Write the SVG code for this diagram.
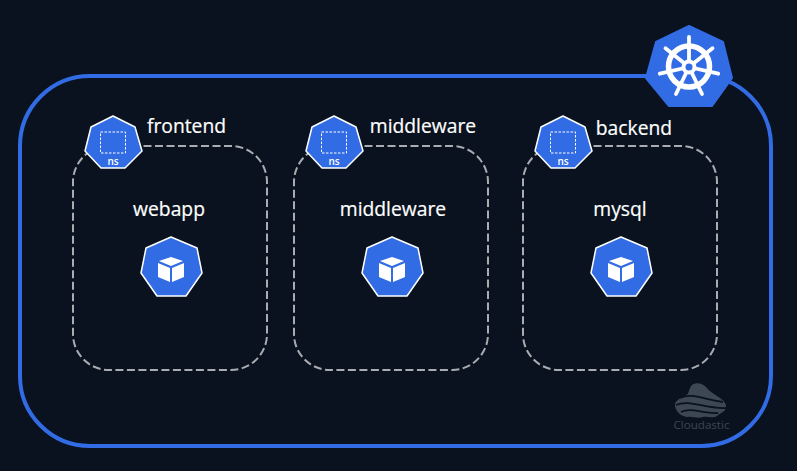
<svg xmlns="http://www.w3.org/2000/svg" width="797" height="471" viewBox="0 0 797 471">
<style>
.lbl{font-family:"Open Sans","Noto Sans",sans-serif;font-size:19.300px;fill:#fff;text-anchor:middle;stroke:#fff;stroke-width:.2}
.ns{fill:none;stroke:#a9adb2;stroke-width:2;stroke-dasharray:8 3.500}
.hex{fill:#326ce5;stroke:#fff;stroke-width:1.500;stroke-linejoin:round}
.nst{font-family:"Open Sans","Noto Sans",sans-serif;font-size:10px;font-weight:600;fill:#fff;text-anchor:middle}
</style>
<defs>
<g id="nsicon">
<polygon class="hex" points="113,116 135,127 142,151 125,168 101,168 85,151 91,127"/>
<rect x="100.500" y="132" width="25" height="21" fill="none" stroke="#fff" stroke-width="1" stroke-dasharray="2.500 1.500"/>
</g>
<g id="podicon">
<polygon class="hex" points="171,237 197,248 202,273 186,296 157,296 141,273 146,248"/>
<polygon fill="#fff" points="171,257 183,261 171,266 159,261"/>
<polygon fill="#fff" points="158,263 170,268 170,282 158,277"/>
<polygon fill="#fff" points="184,263 172,268 172,282 184,277"/>
</g>
</defs>
<rect width="797" height="471" fill="#09121e"/>
<g id="connectors">
<rect id="cluster-frame" x="20" y="76" width="751" height="370" rx="70" ry="70" fill="none" stroke="#326ce5" stroke-width="4"/>
</g>
<g id="kubernetes">
<polygon points="689,26 723,42 732,78 712,106 669,106 646,78 656,42" fill="#326ce5" stroke="#326ce5" stroke-width="2" stroke-linejoin="round"/>
<g fill="none" stroke="#fff" stroke-linecap="round">
<circle cx="689" cy="66.500" r="20.500" stroke-width="5.500"/>
<g stroke-width="3.800">
<line x1="689" y1="67" x2="689" y2="37"/>
<line x1="689" y1="67" x2="712.500" y2="48.300"/>
<line x1="689" y1="67" x2="718.200" y2="73.700"/>
<line x1="689" y1="67" x2="702" y2="94"/>
<line x1="689" y1="67" x2="676" y2="94"/>
<line x1="689" y1="67" x2="659.800" y2="73.700"/>
<line x1="689" y1="67" x2="665.500" y2="48.300"/>
</g>
</g>
<circle cx="689" cy="67" r="7.500" fill="#fff"/>
<circle cx="689" cy="67" r="3.500" fill="#326ce5"/>
</g>
<g id="ns-frontend">
<rect class="ns" x="73" y="146" width="194" height="224" rx="36"/>
<use href="#nsicon"/>
<text class="nst" x="113" y="164.500">ns</text>
<text class="lbl" x="186.500" y="133">frontend</text>
</g>
<g id="pod-webapp">
<text class="lbl" x="169" y="216">webapp</text>
<use href="#podicon"/>
</g>
<g id="ns-middleware">
<rect class="ns" x="294" y="146" width="194" height="224" rx="36"/>
<use href="#nsicon" x="221"/>
<text class="nst" x="334" y="164.500">ns</text>
<text class="lbl" x="423" y="133">middleware</text>
</g>
<g id="pod-middleware">
<text class="lbl" x="393" y="216">middleware</text>
<use href="#podicon" x="221"/>
</g>
<g id="ns-backend">
<rect class="ns" x="523" y="146" width="194" height="224" rx="36"/>
<use href="#nsicon" x="450"/>
<text class="nst" x="563" y="164.500">ns</text>
<text class="lbl" x="634" y="135">backend</text>
</g>
<g id="pod-mysql">
<text class="lbl" x="620" y="216">mysql</text>
<use href="#podicon" x="450"/>
</g>
<g id="watermark">
<path d="M692,385 C696,382 702,383 706,387 C709,391 713,393 717,396 C722,399 727,403 726,408 C725,412 720,413 717,416 C712,419 708,416 703,417 C697,419 692,416 687,417 C681,416 676,412 675,406 C674,401 680,398 685,396 C690,394 688,389 692,385 Z" fill="#3d4653"/>
<g fill="none" stroke="#09121e" stroke-width="1.800">
<path d="M680,398 C692,392 704,400 723,402"/>
<path d="M676,405 C690,399 704,409 726,408"/>
<path d="M681,412 C692,407 702,414 718,413"/>
</g>
<text x="701.500" y="428.500" font-family="'Open Sans','Noto Sans',sans-serif" font-size="11.600" fill="#3d4653" text-anchor="middle">Cloudastic</text>
</g>
</svg>
